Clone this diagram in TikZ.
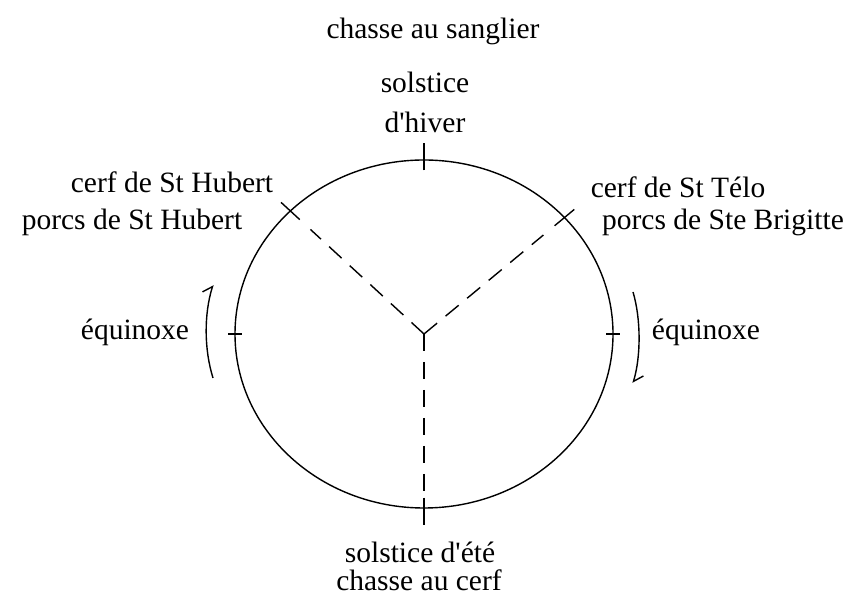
\documentclass[tikz,border=0pt]{standalone}
\usepackage{fontspec}
\setmainfont{Liberation Serif}
\usepackage{tikz}
\usetikzlibrary{arrows.meta, calc}

\begin{document}
\begin{tikzpicture}[x=0.5pt, y=0.5pt, line width=0.7pt,
  lbl/.style={inner sep=0pt, font=\fontsize{14.75}{20}\selectfont},
  rayon/.style={dash pattern=on 8.5pt off 5.5pt},
  sens/.style={-{Straight Barb[left, length=4pt, width=8pt]}}]
  \useasboundingbox (0,0) rectangle (850,599);

  % Cercle de l'année
  \coordinate (c) at (424,265);
  \draw (c) ellipse [x radius=189, y radius=174];
  \foreach \a/\n in {90/hiver, 270/ete, 0/eqd, 180/eqg, 135/hubert, 42/telo}
    \coordinate (\n) at ($(c)+(\a:189 and 174)$);

  % Repères
  \foreach \n/\i/\o in {hiver/.94/1.1, ete/.94/1.1, eqd/.965/1.035,
                        eqg/.965/1.035, hubert/.93/1.07, telo/.93/1.07}
    \draw ($(c)!\i!(\n)$) -- ($(c)!\o!(\n)$);

  % Rayons
  \draw[rayon] (c) -- (ete);
  \draw[rayon] (c) -- ($(c)!0.85!(hubert)$);
  \draw[rayon] (c) -- ($(c)!0.85!(telo)$);

  % Sens de rotation
  \draw[sens] (213,221) .. controls (204,250) and (204,285) .. (213,314);
  \draw[sens] (633,307) .. controls (641,280) and (641,243) .. (633,216);

  % Textes
  \node[lbl] (sanglier) at (433,568) {chasse au sanglier};
  \node[lbl, align=center] (lhiver) at (425,497) {solstice\\d\textquotesingle hiver};
  \node[lbl] (lhub1) at (172,417) {cerf de St Hubert};
  \node[lbl] (lhub2) at (132,377) {porcs de St Hubert};
  \node[lbl] (ltelo) at (678,412) {cerf de St Télo};
  \node[lbl] (lbrig) at (723,377) {porcs de Ste Brigitte};
  \node[lbl] (leqg) at (135,267) {équinoxe};
  \node[lbl] (leqd) at (706,267) {équinoxe};
  \node[lbl] (lete) at (420,47) {solstice d\textquotesingle été};
  \node[lbl] (lcerf) at (419,19) {chasse au cerf};
\end{tikzpicture}
\end{document}
